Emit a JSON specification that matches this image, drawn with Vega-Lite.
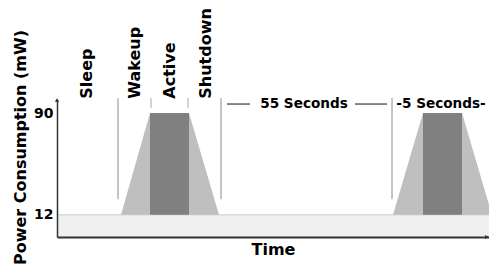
{
  "$schema": "https://vega.github.io/schema/vega-lite/v6.json",
  "autosize": "none",
  "width": 432,
  "height": 137,
  "padding": {"left": 57, "top": 100, "right": 0, "bottom": 27},
  "config": {"view": {"stroke": null}, "font": "DejaVu Sans"},
  "datasets": {
    "band": [{"x0": 0, "x1": 432, "y0": -5, "y1": 12}],
    "trap": [
      {"g": 1, "x": 64, "y": 12}, {"g": 1, "x": 93, "y": 90}, {"g": 1, "x": 132, "y": 90}, {"g": 1, "x": 162, "y": 12},
      {"g": 2, "x": 336, "y": 12}, {"g": 2, "x": 366, "y": 90}, {"g": 2, "x": 405, "y": 90}, {"g": 2, "x": 435, "y": 12}
    ],
    "active": [{"x0": 93, "x1": 132, "y0": 12, "y1": 90}, {"x0": 366, "x1": 405, "y0": 12, "y1": 90}],
    "vlines": [
      {"x": 61, "y0": 24, "y1": 101.5, "c": "long"},
      {"x": 94, "y0": 93.9, "y1": 101.5, "c": "short"},
      {"x": 131, "y0": 93.9, "y1": 101.5, "c": "short"},
      {"x": 164, "y0": 24, "y1": 101.5, "c": "long"},
      {"x": 335, "y0": 24, "y1": 101.5, "c": "long"}
    ],
    "hlines": [
      {"x0": 170, "x1": 193, "y": 96.9},
      {"x0": 298, "x1": 330, "y": 96.9}
    ],
    "durations": [{"x": 247, "y": 96.9, "t": "55 Seconds"}, {"x": 384, "y": 96.9, "t": "-5 Seconds-"}],
    "phases": [
      {"x": 35, "y": 101, "t": "Sleep"},
      {"x": 83, "y": 101, "t": "Wakeup"},
      {"x": 118, "y": 101, "t": "Active"},
      {"x": 154, "y": 101, "t": "Shutdown"}
    ],
    "arrows": [{"x": 0, "y": 100, "s": "triangle-up"}, {"x": 430, "y": -5, "s": "triangle-right"}]
  },
  "layer": [
    {
      "data": {"name": "band"},
      "mark": {"type": "rect", "fill": "#f0f0f0"},
      "encoding": {
        "x": {"field": "x0", "type": "quantitative", "scale": {"domain": [0, 432], "nice": false, "zero": false},
          "axis": {"title": "Time", "titleFont": "DejaVu Sans", "titleFontSize": 16, "titleFontWeight": "bold", "titleColor": "#000", "labels": false, "ticks": false, "tickSize": 0, "grid": false, "domainColor": "#333", "domainWidth": 2, "titlePadding": 4, "zindex": 1}},
        "x2": {"field": "x1"},
        "y": {"field": "y0", "type": "quantitative", "scale": {"domain": [-5, 100], "nice": false, "zero": false},
          "axis": {"title": "Power Consumption (mW)", "values": [12, 90], "titleFont": "DejaVu Sans", "titleFontSize": 16, "titleFontWeight": "bold", "titleColor": "#000", "titleY": 47, "titlePadding": 5, "labelFont": "DejaVu Sans", "labelFontSize": 14, "labelFontWeight": "bold", "labelColor": "#000", "labelPadding": 4, "ticks": false, "tickSize": 0, "grid": false, "domainColor": "#333", "domainWidth": 1.5, "zindex": 1}},
        "y2": {"field": "y1"}
      }
    },
    {
      "data": {"name": "band"},
      "mark": {"type": "rule", "color": "#cccccc", "strokeWidth": 1},
      "encoding": {
        "x": {"field": "x0", "type": "quantitative"},
        "x2": {"field": "x1"},
        "y": {"field": "y1", "type": "quantitative"}
      }
    },
    {
      "data": {"name": "trap"},
      "mark": {"type": "area", "color": "#bfbfbf", "opacity": 1, "clip": true},
      "encoding": {
        "x": {"field": "x", "type": "quantitative"},
        "y": {"field": "y", "type": "quantitative"},
        "y2": {"datum": 12},
        "detail": {"field": "g"}
      }
    },
    {
      "data": {"name": "active"},
      "mark": {"type": "rect", "fill": "#808080"},
      "encoding": {
        "x": {"field": "x0", "type": "quantitative"},
        "x2": {"field": "x1"},
        "y": {"field": "y0", "type": "quantitative"},
        "y2": {"field": "y1"}
      }
    },
    {
      "data": {"name": "vlines"},
      "mark": {"type": "rule", "strokeWidth": 1},
      "encoding": {
        "x": {"field": "x", "type": "quantitative"},
        "y": {"field": "y0", "type": "quantitative"},
        "y2": {"field": "y1"},
        "color": {"field": "c", "type": "nominal", "scale": {"domain": ["long", "short"], "range": ["#8c8c8c", "#a8a8a8"]}, "legend": null}
      }
    },
    {
      "data": {"name": "hlines"},
      "mark": {"type": "rule", "color": "#111", "strokeWidth": 1},
      "encoding": {
        "x": {"field": "x0", "type": "quantitative"},
        "x2": {"field": "x1"},
        "y": {"field": "y", "type": "quantitative"}
      }
    },
    {
      "data": {"name": "durations"},
      "mark": {"type": "text", "font": "DejaVu Sans", "fontSize": 13.6, "fontWeight": "bold", "color": "#000", "align": "center", "baseline": "middle"},
      "encoding": {
        "x": {"field": "x", "type": "quantitative"},
        "y": {"field": "y", "type": "quantitative"},
        "text": {"field": "t"}
      }
    },
    {
      "data": {"name": "phases"},
      "mark": {"type": "text", "font": "DejaVu Sans", "fontSize": 16, "fontWeight": "bold", "color": "#000", "align": "left", "baseline": "alphabetic", "angle": 270},
      "encoding": {
        "x": {"field": "x", "type": "quantitative"},
        "y": {"field": "y", "type": "quantitative"},
        "text": {"field": "t"}
      }
    },
    {
      "data": {"name": "arrows"},
      "mark": {"type": "point", "filled": true, "color": "#222", "size": 18, "opacity": 1},
      "encoding": {
        "x": {"field": "x", "type": "quantitative"},
        "y": {"field": "y", "type": "quantitative"},
        "shape": {"field": "s", "type": "nominal", "scale": null}
      }
    }
  ]
}
